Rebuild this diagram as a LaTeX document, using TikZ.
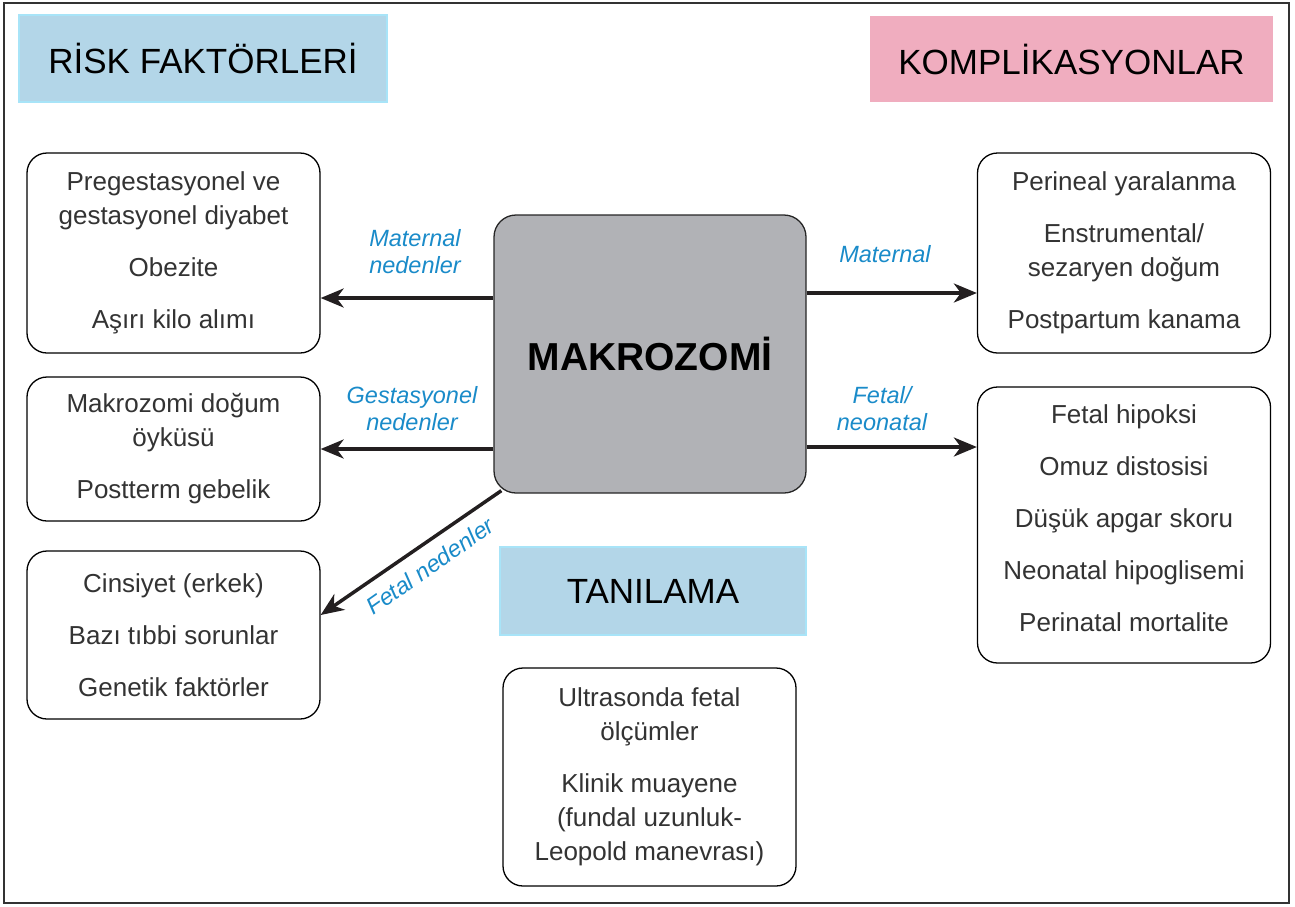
\documentclass[tikz,border=0pt]{standalone}
\usepackage{fontspec}
\setmainfont{Liberation Sans}
\usetikzlibrary{arrows.meta,calc}
\definecolor{hblue}{HTML}{B3D6E8}
\definecolor{hblueedge}{HTML}{A8E4F8}
\definecolor{hpink}{HTML}{F0ADBF}
\definecolor{cgray}{HTML}{B1B2B6}
\definecolor{lblue}{HTML}{1A8BC9}
\definecolor{txt}{HTML}{333333}
\definecolor{arrc}{HTML}{231F20}
\tikzset{
  hdr/.style={font={\fontsize{35}{40}\selectfont}, text=black, inner sep=0pt},
  hdrblue/.style={hdr, fill=hblue, draw=hblueedge, line width=1.5pt},
  hdrpink/.style={hdr, fill=hpink},
  itembox/.style={draw=black, line width=1.3pt, rounded corners=20pt, fill=white,
    minimum width=293pt, align=center, text=txt, inner sep=0pt,
    font={\fontsize{26}{34}\selectfont}},
  centerbox/.style={draw=black!85, line width=1.3pt, rounded corners=22pt, fill=cgray,
    minimum width=312pt, minimum height=278pt, inner sep=0pt,
    font={\fontsize{39}{44}\selectfont\bfseries}},
  lbl/.style={text=lblue, align=center, inner sep=0pt,
    font={\fontsize{23.5}{27}\selectfont\itshape}},
  arr/.style={draw=arrc, line width=3.5pt, -{Stealth[length=23pt,width=19pt,inset=7pt]}}
}
\begin{document}
\begin{tikzpicture}[x=1pt,y=-1pt]
\useasboundingbox (0,0) rectangle (1295,906);
\draw[line width=1.3pt, draw=black!80] (4,3) rectangle (1289,903);

\node[hdrblue, minimum width=368pt, minimum height=87pt] (risk) at (203,58.5) {RİSK FAKTÖRLERİ};
\node[hdrpink, minimum width=403pt, minimum height=86pt] (komp) at (1071.5,59) {KOMPLİKASYONLAR};
\node[hdrblue, minimum width=306pt, minimum height=88pt] (tani) at (653,591) {TANILAMA};

\node[centerbox] (mak) at (650,354) {MAKROZOMİ};

\node[itembox, minimum height=200pt] (b1) at (173.5,253) {Pregestasyonel ve\\gestasyonel diyabet\\[18pt]Obezite\\[18pt]Aşırı kilo alımı};
\node[itembox, minimum height=144pt] (b2) at (173.5,449) {Makrozomi doğum\\öyküsü\\[18pt]Postterm gebelik};
\node[itembox, minimum height=168pt] (b3) at (173.5,635) {Cinsiyet (erkek)\\[18pt]Bazı tıbbi sorunlar\\[18pt]Genetik faktörler};

\node[itembox, minimum height=200pt] (b4) at (1124,253) {Perineal yaralanma\\[18pt]Enstrumental/\\sezaryen doğum\\[18pt]Postpartum kanama};
\node[itembox, minimum height=276pt] (b5) at (1124,525) {};
\node[align=center, text=txt, font={\fontsize{26}{34}\selectfont}, inner sep=0pt] (b5t) at (1124,518) {Fetal hipoksi\\[18pt]Omuz distosisi\\[18pt]Düşük apgar skoru\\[18pt]Neonatal hipoglisemi\\[18pt]Perinatal mortalite};

\node[itembox, minimum height=218pt] (b6) at (649.5,777) {Ultrasonda fetal\\ölçümler\\[18pt]Klinik muayene\\(fundal uzunluk-\\Leopold manevrası)};

\draw[arr] ([yshift=56pt]mak.west) -- ([yshift=56pt]mak.west -| b1.east);
\draw[arr] (mak.west |- b2.east) -- (b2.east);
\draw[arr] ([shift={(8,-3)}]mak.south west) -- ([yshift=20pt]b3.east);
\draw[arr] ([yshift=61pt]mak.east) -- ([yshift=61pt]mak.east -| b4.west);
\draw[arr] ([yshift=-93pt]mak.east) -- ([yshift=-93pt]mak.east -| b5.west);

\node[lbl] (l1) at (415,252) {Maternal\\nedenler};
\node[lbl] (l2) at (412,409) {Gestasyonel\\nedenler};
\node[lbl, rotate=35] (l3) at (430,566) {Fetal nedenler};
\node[lbl] (l4) at (885,254) {Maternal};
\node[lbl] (l5) at (882,409) {Fetal/\\neonatal};
\end{tikzpicture}
\end{document}
